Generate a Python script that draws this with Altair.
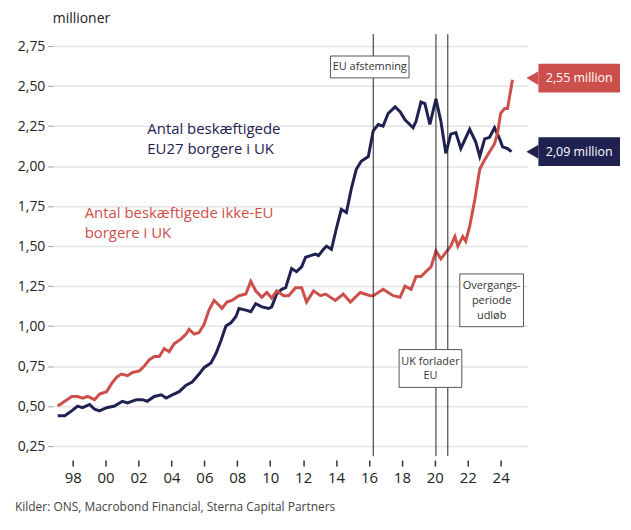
import pandas as pd
import altair as alt

# EU27 citizens employed in UK (millions)
eu_years = [1997.09, 1997.52, 1997.94, 1998.30, 1998.60, 1999.03, 1999.33, 1999.63,
            2000.06, 2000.54, 2001.02, 2001.33, 2001.87, 2002.23, 2002.53, 2002.96,
            2003.38, 2003.68, 2004.05, 2004.47, 2004.89, 2005.26, 2005.68, 2005.98,
            2006.40, 2006.71, 2007.01, 2007.31, 2007.61, 2007.92, 2008.10, 2008.52,
            2008.82, 2009.12, 2009.49, 2009.91, 2010.09, 2010.39, 2010.70, 2010.94,
            2011.30, 2011.60, 2011.91, 2012.15, 2012.45, 2012.75, 2012.93, 2013.24,
            2013.42, 2013.72, 2014.02, 2014.32, 2014.63, 2014.93, 2015.23, 2015.53,
            2015.96, 2016.26, 2016.56, 2016.86, 2017.17, 2017.59, 2017.89, 2018.19,
            2018.68, 2018.86, 2019.16, 2019.40, 2019.70, 2020.07, 2020.37, 2020.67,
            2020.97, 2021.28, 2021.58, 2022.12, 2022.49, 2022.73, 2023.03, 2023.33,
            2023.63, 2023.94, 2024.12, 2024.42, 2024.66]
eu_values = [0.44, 0.44, 0.47, 0.50, 0.49, 0.51, 0.48, 0.47,
             0.49, 0.50, 0.53, 0.52, 0.54, 0.54, 0.53, 0.56,
             0.57, 0.55, 0.57, 0.59, 0.63, 0.65, 0.70, 0.74,
             0.77, 0.83, 0.91, 1.00, 1.02, 1.06, 1.11, 1.10,
             1.09, 1.14, 1.12, 1.11, 1.12, 1.20, 1.23, 1.24,
             1.36, 1.34, 1.37, 1.43, 1.44, 1.45, 1.44, 1.48,
             1.50, 1.48, 1.61, 1.73, 1.71, 1.86, 1.98, 2.03,
             2.06, 2.22, 2.26, 2.25, 2.33, 2.37, 2.34, 2.29,
             2.24, 2.28, 2.40, 2.39, 2.26, 2.42, 2.28, 2.08,
             2.20, 2.21, 2.11, 2.23, 2.15, 2.06, 2.17, 2.18,
             2.24, 2.17, 2.12, 2.11, 2.09]

# non-EU citizens employed in UK (millions)
noneu_years = [1997.09, 1997.52, 1997.94, 1998.30, 1998.60, 1998.91, 1999.33, 1999.63,
               2000.06, 2000.36, 2000.66, 2000.96, 2001.33, 2001.63, 2002.05, 2002.35,
               2002.66, 2002.96, 2003.26, 2003.56, 2003.86, 2004.17, 2004.59, 2004.89,
               2005.07, 2005.38, 2005.68, 2005.98, 2006.28, 2006.59, 2006.89, 2007.07,
               2007.37, 2007.67, 2008.10, 2008.52, 2008.82, 2009.12, 2009.49, 2009.79,
               2010.09, 2010.39, 2010.82, 2011.12, 2011.54, 2011.91, 2012.21, 2012.63,
               2013.05, 2013.36, 2013.96, 2014.44, 2014.87, 2015.47, 2016.08, 2016.26,
               2016.86, 2017.47, 2017.89, 2018.19, 2018.56, 2018.86, 2019.16, 2019.46,
               2019.77, 2020.07, 2020.37, 2020.67, 2020.97, 2021.22, 2021.40, 2021.70,
               2021.88, 2022.12, 2022.43, 2022.73, 2023.03, 2023.33, 2023.63, 2023.82,
               2024.00, 2024.24, 2024.42, 2024.72]
noneu_values = [0.50, 0.53, 0.56, 0.56, 0.55, 0.56, 0.54, 0.575,
                0.59, 0.64, 0.68, 0.70, 0.69, 0.71, 0.72, 0.75,
                0.79, 0.81, 0.81, 0.86, 0.84, 0.89, 0.92, 0.95,
                0.98, 0.95, 0.96, 1.01, 1.10, 1.16, 1.13, 1.11,
                1.15, 1.16, 1.19, 1.20, 1.28, 1.22, 1.18, 1.21,
                1.175, 1.22, 1.19, 1.19, 1.24, 1.24, 1.15, 1.22,
                1.19, 1.20, 1.16, 1.20, 1.15, 1.21, 1.19, 1.19,
                1.23, 1.19, 1.18, 1.25, 1.23, 1.31, 1.31, 1.34,
                1.37, 1.47, 1.42, 1.46, 1.50, 1.56, 1.50, 1.56,
                1.53, 1.625, 1.79, 1.98, 2.04, 2.09, 2.14, 2.21,
                2.33, 2.36, 2.36, 2.54]

# events (vertical lines)
event_years = [2016.26, 2020.07, 2020.79]

# end-of-series labels
end_labels = ["2,55 million", "2,09 million"]
end_values = [2.55, 2.09]
end_series = ["noneu", "eu"]

x_ticks = list(range(1998, 2025, 2))
y_ticks = [0.25, 0.50, 0.75, 1.00, 1.25, 1.50, 1.75, 2.00, 2.25, 2.50, 2.75]

NAVY = "#1f2251"
RED = "#cd4f4c"
FONT = "Open Sans"

d = pd.concat([
    pd.DataFrame({"year": eu_years, "value": eu_values, "serie": "eu"}),
    pd.DataFrame({"year": noneu_years, "value": noneu_values, "serie": "noneu"}),
])

x_scale = alt.Scale(domain=[1996.79, 2025.63], nice=False, zero=False)
y_scale = alt.Scale(domain=[0.1875, 2.825], nice=False, zero=False)
color = alt.Color("serie:N", scale=alt.Scale(domain=["eu", "noneu"], range=[NAVY, RED]), legend=None)

x_axis = alt.Axis(values=x_ticks, labelExpr="slice('0' + (datum.value % 100), -2)",
                  grid=False, domain=False, ticks=True, tickColor="#333", tickSize=6,
                  tickWidth=1.5, offset=4, labelOverlap=False, labelFontSize=15,
                  labelColor="#222", labelPadding=5, labelFont=FONT)
y_axis = alt.Axis(values=y_ticks, labelExpr="replace(format(datum.value, '.2f'), '.', ',')",
                  gridColor="#e3e3e3", gridWidth=1.5, domain=False, ticks=True,
                  tickColor="#999", tickSize=5, tickWidth=1, labelFontSize=14,
                  labelColor="#222", labelPadding=3, labelOverlap=False, labelFont=FONT)
x = alt.X("year:Q", scale=x_scale, title=None, axis=x_axis)
y = alt.Y("value:Q", scale=y_scale, title=None, axis=y_axis)

lines = alt.Chart(d).mark_line(strokeWidth=3).encode(x=x, y=y, color=color)

ev = alt.Chart(pd.DataFrame({"year": event_years})).mark_rule(color="#222", strokeWidth=1).encode(
    x=x, y=alt.value(0), y2=alt.value(424))


def box(x0, x1, y0, y1):
    return alt.Chart(pd.DataFrame({"k": [0]})).mark_rect(
        fill="white", stroke="#555", strokeWidth=1).encode(
        x=alt.value(x0), x2=alt.value(x1), y=alt.value(y0), y2=alt.value(y1))


def label(txt, px, py, col, size=11, align="center", lh=None):
    return alt.Chart(pd.DataFrame({"t": [txt]})).mark_text(
        font=FONT, fontSize=size, color=col, align=align, baseline="middle",
        lineBreak="\n", lineHeight=lh or size * 1.35).encode(
        text="t:N", x=alt.value(px), y=alt.value(py))


annotations = [
    box(279, 358, 22, 44), label("EU afstemning", 318.5, 33, "#333"),
    box(348, 411, 317, 355), label("UK forlader\nEU", 379.5, 329, "#333", lh=15),
    box(409, 473, 241, 294), label("Overgangs-\nperiode\nudløb", 441, 253, "#333", lh=15),
    label("Antal beskæftigede\nEU27 borgere i UK", 95, 95, NAVY, 15, "left", 20),
    label("Antal beskæftigede ikke-EU\nborgere i UK", 32, 180, RED, 15, "left", 20),
    label("Kilder: ONS, Macrobond Financial, Sterna Capital Partners", -38, 475, "#444", 12, "left"),
]

ends = pd.DataFrame({"label": end_labels, "value": end_values, "serie": end_series})
end_base = alt.Chart(ends).transform_calculate(
    lo="datum.value - 0.09", hi="datum.value + 0.09")
end_box = end_base.mark_rect().encode(
    x=alt.value(488), x2=alt.value(570),
    y=alt.Y("lo:Q", scale=y_scale), y2="hi:Q", color=color)
end_arrow = end_base.mark_point(
    shape="M -0.86 0 L 0.86 -1 L 0.86 1 Z", filled=True, opacity=1, size=196).encode(
    x=alt.value(482), y=alt.Y("value:Q", scale=y_scale), color=color)
end_text = end_base.mark_text(font=FONT, fontSize=12.5, color="white", baseline="middle").encode(
    x=alt.value(529), y=alt.Y("value:Q", scale=y_scale), text="label:N")

chart = alt.layer(lines, ev, *annotations, end_box, end_arrow, end_text).properties(
    width=477, height=424,
    title=alt.TitleParams("millioner", anchor="start", fontSize=14, fontWeight="normal",
                          font=FONT, color="#222", offset=8, frame="group"),
    autosize=alt.AutoSizeParams(type="none"),
    padding={"left": 45, "top": 25, "right": 96, "bottom": 60},
).configure_view(stroke=None).configure_axisX(
    labelOverlap=False, ticks=True, tickColor="#333", tickWidth=1.5, tickSize=6
).configure_axisY(ticks=True, tickColor="#999", tickSize=5)

chart.save("out.html", embed_options={"renderer": "svg", "actions": False})
